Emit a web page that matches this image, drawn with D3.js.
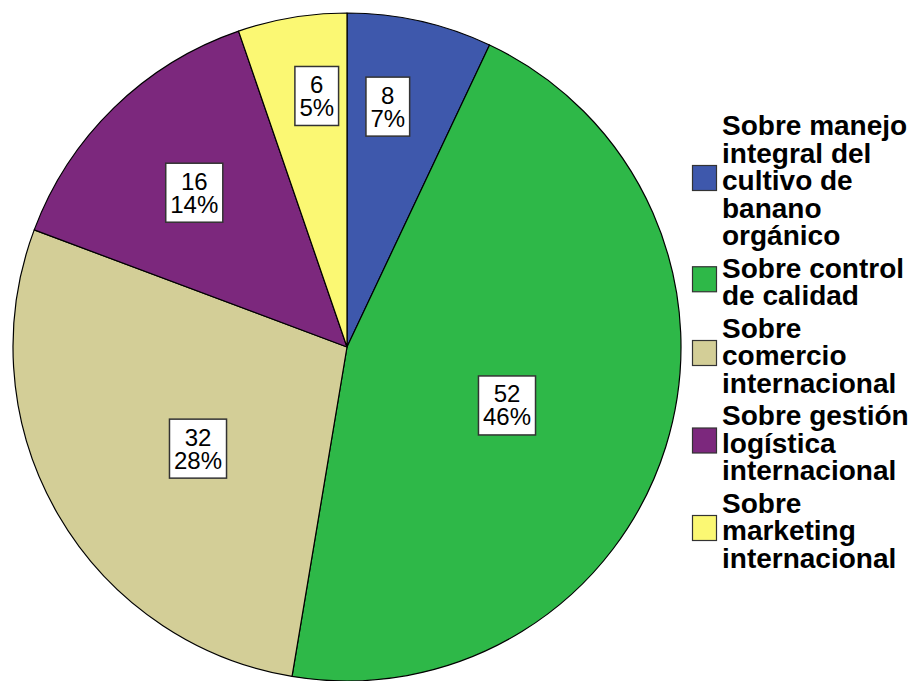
<!DOCTYPE html>
<html>
<head>
<meta charset="utf-8">
<script src="https://cdn.jsdelivr.net/npm/d3@7"></script>
<style>
  body { margin: 0; background: #fff; }
  svg { display: block; font-family: "Liberation Sans", Arial, sans-serif; }
</style>
</head>
<body>
<div class="chart"></div>
<script>
// chart data
const categories = [
    "Sobre manejo integral del cultivo de banano orgánico",
    "Sobre control de calidad",
    "Sobre comercio internacional",
    "Sobre gestión logística internacional",
    "Sobre marketing internacional"
];
const counts = [8, 52, 32, 16, 6];
const percentLabels = ["7%", "46%", "28%", "14%", "5%"];
// legend text as wrapped in the original
const legendLines = [
    ["Sobre manejo", "integral del", "cultivo de", "banano", "orgánico"],
    ["Sobre control", "de calidad"],
    ["Sobre", "comercio", "internacional"],
    ["Sobre gestión", "logística", "internacional"],
    ["Sobre", "marketing", "internacional"]
];

const colors = ["#3E58AC", "#2EB848", "#D3CE97", "#7C287D", "#FBF873"];

const width = 916, height = 681;
const cx = 347, cy = 347, radius = 334;

// label placement (radius fraction, angle nudge in degrees) - SPSS spreads them a bit
const labelRadius = [0.73, 0.51, 0.54, 0.65, 0.757];
const labelNudge = [-3, 2.7, -4.3, -0.5, 2.6];

const svg = d3.select(".chart").append("svg")
    .attr("width", width)
    .attr("height", height);

const color = d3.scaleOrdinal().domain(categories).range(colors);

const pie = d3.pie().sort(null).value(d => d.count);
const arc = d3.arc().innerRadius(0).outerRadius(radius);

const data = categories.map((c, i) => ({ name: c, count: counts[i], pct: percentLabels[i] }));
const arcs = pie(data);

const gPie = svg.append("g").attr("transform", `translate(${cx},${cy})`);

gPie.selectAll("path")
    .data(arcs)
    .enter()
    .append("path")
    .attr("d", arc)
    .attr("fill", d => color(d.data.name))
    .attr("stroke", "#000")
    .attr("stroke-width", 1.2)
    .attr("stroke-linejoin", "round");

// value labels in white boxes
const labels = gPie.selectAll("g.lbl")
    .data(arcs)
    .enter()
    .append("g")
    .attr("class", "lbl")
    .attr("transform", (d, i) => {
        const a = (d.startAngle + d.endAngle) / 2 + labelNudge[i] * Math.PI / 180;
        const r = radius * labelRadius[i];
        return `translate(${r * Math.sin(a)},${-r * Math.cos(a)})`;
    });

labels.each(function(d) {
    const g = d3.select(this);
    const t = g.append("text")
        .attr("text-anchor", "middle")
        .attr("font-size", 24)
        .attr("fill", "#000");
    t.append("tspan").attr("x", 0).attr("y", -3).text(d.data.count);
    t.append("tspan").attr("x", 0).attr("y", 20).text(d.data.pct);
    const w = Math.max(t.node().getBBox().width, 0) + 9;
    g.insert("rect", "text")
        .attr("x", -w / 2)
        .attr("y", -29.5)
        .attr("width", w)
        .attr("height", 59)
        .attr("fill", "#fff")
        .attr("stroke", "#333")
        .attr("stroke-width", 1.5);
});

// legend
const legend = svg.append("g").attr("class", "legend");
const lineH = 27.5, itemGap = 5;
let baseY = 135;
legendLines.forEach((lines, i) => {
    const first = baseY;
    const last = baseY + (lines.length - 1) * lineH;
    const mid = (first + last) / 2 - 12;
    legend.append("rect")
        .attr("x", 692.5)
        .attr("y", mid - 12.5)
        .attr("width", 24)
        .attr("height", 25)
        .attr("fill", color(categories[i]))
        .attr("stroke", "#333")
        .attr("stroke-width", 1.2);
    const t = legend.append("text")
        .attr("font-size", 28)
        .attr("font-weight", "bold")
        .attr("fill", "#000");
    lines.forEach((ln, j) => {
        t.append("tspan").attr("x", 722).attr("y", first + j * lineH).text(ln);
    });
    baseY = last + lineH + itemGap;
});
</script>
</body>
</html>
